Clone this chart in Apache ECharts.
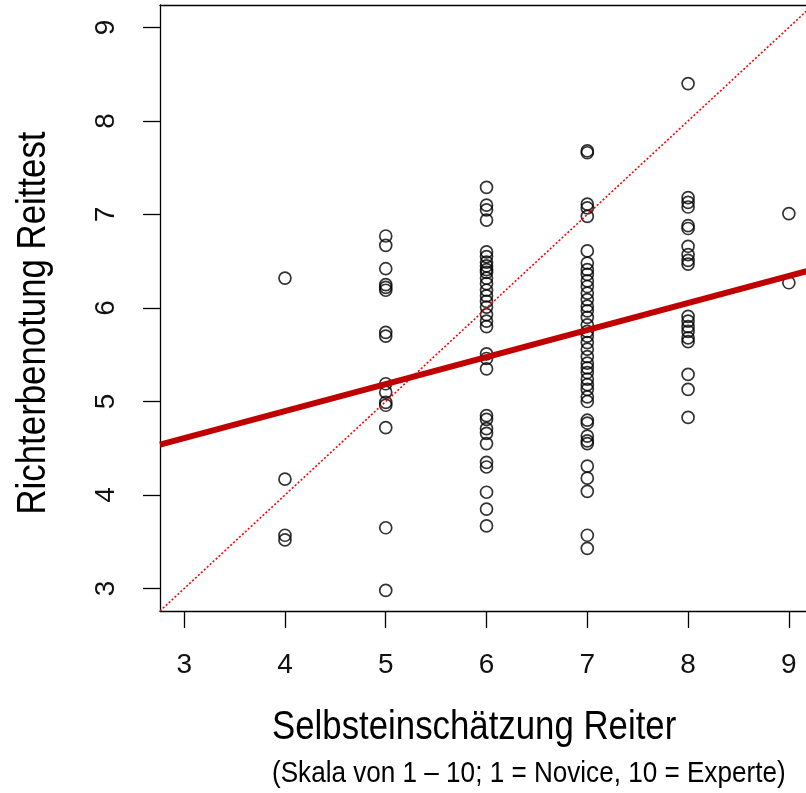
<!DOCTYPE html>
<html>
<head>
<meta charset="utf-8">
<script src="https://cdn.jsdelivr.net/npm/echarts@6/dist/echarts.min.js"></script>
<style>
  html, body { margin: 0; padding: 0; background: #fff; }
  #chart { width: 806px; height: 793px; }
</style>
</head>
<body>
<div id="chart"></div>
<script>
// Richterbenotung je Stufe der Selbsteinschätzung
const ratings4 = [6.32, 4.17, 3.57, 3.52];
const ratings5 = [6.77, 6.67, 6.42, 6.25, 6.22, 6.19, 5.74, 5.70, 5.19, 5.10, 4.99, 4.96, 4.72, 3.65, 2.98];
const ratings6 = [7.29, 7.10, 7.05, 6.94, 6.60, 6.55, 6.49, 6.45, 6.41, 6.38, 6.32, 6.26, 6.19, 6.13, 6.07, 6.01,
  5.93, 5.86, 5.80, 5.51, 5.46, 5.35, 4.85, 4.81, 4.71, 4.66, 4.55, 4.35, 4.30, 4.03, 3.85, 3.67];
const ratings7 = [7.68, 7.66, 7.11, 7.07, 6.98, 6.61, 6.48, 6.41, 6.36, 6.29, 6.23, 6.16, 6.09, 6.02, 5.97, 5.90,
  5.82, 5.75, 5.70, 5.63, 5.56, 5.48, 5.41, 5.36, 5.31, 5.24, 5.18, 5.13, 5.05, 5.00, 4.80, 4.77, 4.63, 4.58,
  4.55, 4.31, 4.18, 4.04, 3.57, 3.43];
const ratings8 = [8.40, 7.18, 7.13, 7.08, 6.88, 6.85, 6.66, 6.57, 6.51, 6.47, 5.91, 5.86, 5.80, 5.75, 5.68, 5.64,
  5.29, 5.13, 4.83];
const ratings9 = [7.01, 6.27];

const selfLevels = [4, 5, 6, 7, 8, 9];
const tickValues = [3, 4, 5, 6, 7, 8, 9];

// Regressionsgerade
const intercept = 3.742;
const slope = 0.289;

// Achsenbereich wie in R (3..9 plus 4 %); rechts ist das Bild abgeschnitten
const rangeMin = 2.76;
const rangeMax = 9.24;
const xVisibleMax = 9.17;

const points = [];
[ratings4, ratings5, ratings6, ratings7, ratings8, ratings9].forEach((arr, i) => {
  arr.forEach((v) => points.push([selfLevels[i], v]));
});

const fontText = "'Liberation Sans', Arial, sans-serif";
const narrow = 0.87; // Arial Narrow nachahmen

const axisLineStyle = { color: "#000", width: 1.3 };

const chart = echarts.init(document.getElementById("chart"));
chart.setOption({
  animation: false,
  backgroundColor: "#fff",
  grid: {
    left: 160,
    top: 5,
    right: 0,
    height: 606,
  },
  xAxis: [
    {
      type: "value",
      min: rangeMin,
      max: xVisibleMax,
      splitLine: { show: false },
      axisLine: { show: true, onZero: false, lineStyle: axisLineStyle },
      axisTick: {
        show: true,
        inside: false,
        length: 17,
        customValues: tickValues,
        lineStyle: axisLineStyle,
      },
      axisLabel: {
        customValues: tickValues,
        margin: 40,
        fontSize: 28,
        color: "#111",
        fontFamily: fontText,
      },
    },
    {
      type: "value",
      position: "top",
      min: rangeMin,
      max: xVisibleMax,
      splitLine: { show: false },
      axisLine: { show: true, onZero: false, lineStyle: axisLineStyle },
      axisTick: { show: false },
      axisLabel: { show: false },
    },
  ],
  yAxis: {
    type: "value",
    min: rangeMin,
    max: rangeMax,
    splitLine: { show: false },
    axisLine: { show: true, onZero: false, lineStyle: axisLineStyle },
    axisTick: {
      show: true,
      inside: false,
      length: 17,
      customValues: tickValues,
      lineStyle: axisLineStyle,
    },
    axisLabel: {
      customValues: tickValues,
      rotate: 90,
      margin: 40,
      fontSize: 28,
      color: "#111",
      fontFamily: fontText,
    },
  },
  graphic: [
    {
      type: "text",
      x: 272,
      y: 728,
      scaleX: narrow,
      style: {
        text: "Selbsteinschätzung Reiter",
        fontSize: 40,
        fontFamily: fontText,
        fill: "#000",
        verticalAlign: "middle",
      },
    },
    {
      type: "text",
      x: 272,
      y: 774,
      scaleX: narrow,
      style: {
        text: "(Skala von 1 – 10; 1 = Novice, 10 = Experte)",
        fontSize: 30,
        fontFamily: fontText,
        fill: "#000",
        verticalAlign: "middle",
      },
    },
    {
      type: "text",
      x: 34,
      y: 323,
      rotation: Math.PI / 2,
      scaleX: narrow,
      style: {
        text: "Richterbenotung Reittest",
        fontSize: 40,
        fontFamily: fontText,
        fill: "#000",
        align: "center",
        verticalAlign: "middle",
      },
    },
  ],
  series: [
    {
      type: "scatter",
      data: points,
      symbol: "circle",
      symbolSize: 12,
      itemStyle: { color: "rgba(0,0,0,0)", borderColor: "#000", borderWidth: 1.7 },
      silent: true,
      z: 2,
    },
    {
      type: "line",
      data: [[rangeMin, rangeMin], [rangeMax, rangeMax]],
      showSymbol: false,
      clip: true,
      lineStyle: { color: "#ff0000", width: 1.6, type: [2, 2] },
      silent: true,
      z: 3,
    },
    {
      type: "line",
      data: [[rangeMin, intercept + slope * rangeMin], [rangeMax, intercept + slope * rangeMax]],
      showSymbol: false,
      clip: true,
      lineStyle: { color: "#c00000", width: 6 },
      silent: true,
      z: 4,
    },
  ],
});
</script>
</body>
</html>
